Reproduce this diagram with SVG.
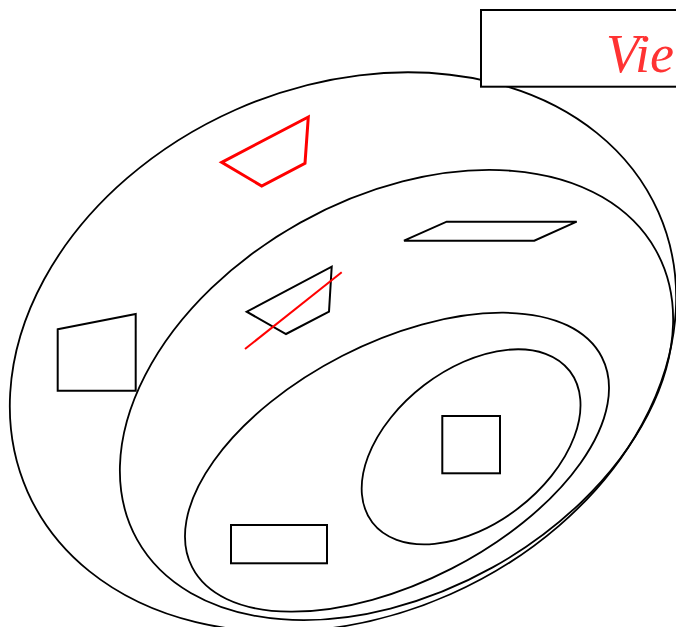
<svg xmlns="http://www.w3.org/2000/svg" width="676" height="627" viewBox="0 0 676 627">
<style>
.ring{fill:none;stroke:#000;stroke-width:1.8}
.shape{fill:none;stroke:#000;stroke-width:2}
.red{fill:none;stroke:#f00}
.label{font-family:"Liberation Serif","DejaVu Serif",serif;font-style:italic;font-size:54px;fill:#f33}
</style>
<rect width="676" height="627" fill="#fff"/>
<g id="region-outer"><ellipse class="ring" cx="343" cy="352" rx="345" ry="265" transform="rotate(-23.9 343 352)"/></g>
<g id="region-2"><ellipse class="ring" cx="396.5" cy="395" rx="297" ry="197.4" transform="rotate(-29.15 396.5 395)"/></g>
<g id="region-3"><ellipse class="ring" cx="397" cy="462.2" rx="230.2" ry="119.6" transform="rotate(-27.13 397 462.2)"/></g>
<g id="region-4"><ellipse class="ring" cx="471.1" cy="446.8" rx="124.4" ry="77.5" transform="rotate(-37.46 471.1 446.8)"/></g>
<g id="red-quad"><polygon class="red" stroke-width="3" points="308.3,117 305,163.3 261.7,186 221.7,162.3"/></g>
<g id="crossed-quad"><polygon class="shape" points="331.7,266.7 329,311.7 286,334 246.7,311.7"/><line class="red" stroke-width="2" x1="245" y1="349" x2="341.7" y2="272.3"/></g>
<g id="parallelogram"><polygon class="shape" points="446.7,221.7 576.7,221.7 534.3,240.7 404,240.7"/></g>
<g id="left-quad"><polygon class="shape" points="57.7,329.3 135.7,314 135.7,390.7 57.7,390.7"/></g>
<g id="square"><rect class="shape" x="442.3" y="416" width="57.7" height="57.3"/></g>
<g id="rectangle"><rect class="shape" x="231" y="525" width="96" height="38.3"/></g>
<g id="title-box"><rect x="481" y="10" width="220" height="76.7" fill="#fff" stroke="#000" stroke-width="2"/><text class="label" x="606" y="72">Vie</text></g>
</svg>
